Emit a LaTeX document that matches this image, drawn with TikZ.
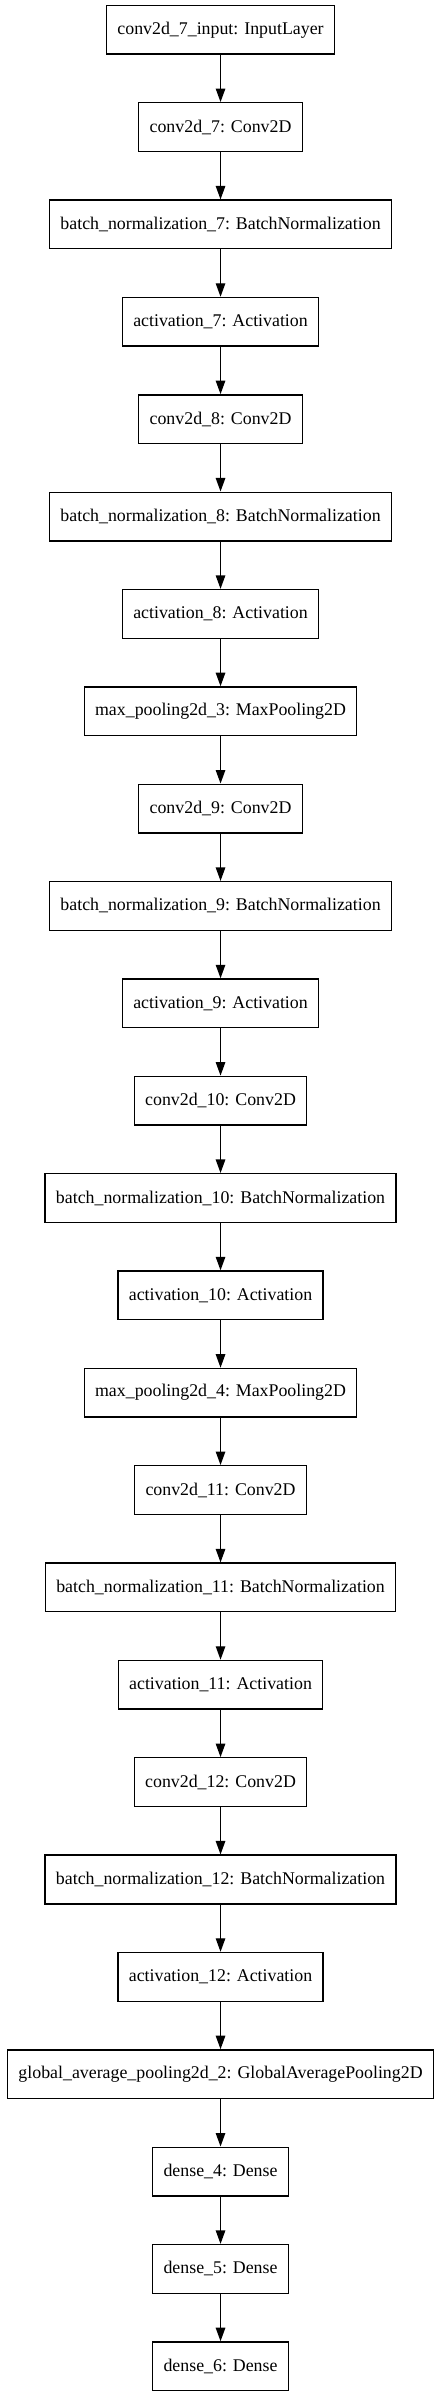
\documentclass[tikz,border=0pt]{standalone}
\usepackage{fontspec}
\setmainfont{Liberation Serif}
\usetikzlibrary{arrows.meta}
\tikzset{
  layer/.style={draw, line width=1pt, minimum height=36pt, inner xsep=8pt, inner ysep=0pt,
    font=\fontsize{13.2}{15}\selectfont},
  flow/.style={line width=1pt, -{Triangle[length=10pt,width=7pt]}}
}

\begin{document}
\begin{tikzpicture}[y=-72pt]
        \useasboundingbox (-163.1pt,22pt) rectangle (163.1pt,-1750pt);
        \node[layer] (in7) at (0,0) {conv2d\_7\_input: InputLayer};
        \node[layer] (conv7) at (0,1) {conv2d\_7: Conv2D};
        \node[layer] (bn7) at (0,2) {batch\_normalization\_7: BatchNormalization};
        \node[layer] (act7) at (0,3) {activation\_7: Activation};
        \node[layer] (conv8) at (0,4) {conv2d\_8: Conv2D};
        \node[layer] (bn8) at (0,5) {batch\_normalization\_8: BatchNormalization};
        \node[layer] (act8) at (0,6) {activation\_8: Activation};
        \node[layer] (pool3) at (0,7) {max\_pooling2d\_3: MaxPooling2D};
        \node[layer] (conv9) at (0,8) {conv2d\_9: Conv2D};
        \node[layer] (bn9) at (0,9) {batch\_normalization\_9: BatchNormalization};
        \node[layer] (act9) at (0,10) {activation\_9: Activation};
        \node[layer] (conv10) at (0,11) {conv2d\_10: Conv2D};
        \node[layer] (bn10) at (0,12) {batch\_normalization\_10: BatchNormalization};
        \node[layer] (act10) at (0,13) {activation\_10: Activation};
        \node[layer] (pool4) at (0,14) {max\_pooling2d\_4: MaxPooling2D};
        \node[layer] (conv11) at (0,15) {conv2d\_11: Conv2D};
        \node[layer] (bn11) at (0,16) {batch\_normalization\_11: BatchNormalization};
        \node[layer] (act11) at (0,17) {activation\_11: Activation};
        \node[layer] (conv12) at (0,18) {conv2d\_12: Conv2D};
        \node[layer] (bn12) at (0,19) {batch\_normalization\_12: BatchNormalization};
        \node[layer] (act12) at (0,20) {activation\_12: Activation};
        \node[layer] (gap2) at (0,21) {global\_average\_pooling2d\_2: GlobalAveragePooling2D};
        \node[layer] (dense4) at (0,22) {dense\_4: Dense};
        \node[layer] (dense5) at (0,23) {dense\_5: Dense};
        \node[layer] (dense6) at (0,24) {dense\_6: Dense};
        \draw[flow] (in7) -- (conv7);
        \draw[flow] (conv7) -- (bn7);
        \draw[flow] (bn7) -- (act7);
        \draw[flow] (act7) -- (conv8);
        \draw[flow] (conv8) -- (bn8);
        \draw[flow] (bn8) -- (act8);
        \draw[flow] (act8) -- (pool3);
        \draw[flow] (pool3) -- (conv9);
        \draw[flow] (conv9) -- (bn9);
        \draw[flow] (bn9) -- (act9);
        \draw[flow] (act9) -- (conv10);
        \draw[flow] (conv10) -- (bn10);
        \draw[flow] (bn10) -- (act10);
        \draw[flow] (act10) -- (pool4);
        \draw[flow] (pool4) -- (conv11);
        \draw[flow] (conv11) -- (bn11);
        \draw[flow] (bn11) -- (act11);
        \draw[flow] (act11) -- (conv12);
        \draw[flow] (conv12) -- (bn12);
        \draw[flow] (bn12) -- (act12);
        \draw[flow] (act12) -- (gap2);
        \draw[flow] (gap2) -- (dense4);
        \draw[flow] (dense4) -- (dense5);
        \draw[flow] (dense5) -- (dense6);
      \end{tikzpicture}
\end{document}
